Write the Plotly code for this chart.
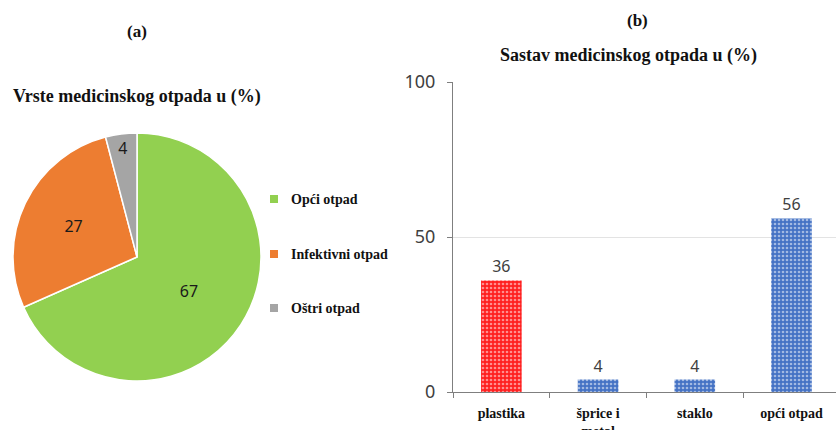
import plotly.graph_objects as go

# ---- data ----
pie_labels = ["Opći otpad", "Infektivni otpad", "Oštri otpad"]
pie_values = [67, 27, 4]
pie_colors = ["#92D050", "#ED7D31", "#A5A5A5"]

bar_categories = ["plastika", "šprice i<br>metal", "staklo", "opći otpad"]
bar_values = [36, 4, 4, 56]
bar_colors = ["#FF1F1F", "#4472C4", "#4472C4", "#4472C4"]

y_ticks = [0, 50, 100]

W, H = 836, 430
ML, MR, MT, MB = 0, 0, 82, 38
PW, PH = W - ML - MR, H - MT - MB


def xp(px):
    return (px - ML) / PW


def yp(py):
    return (H - MB - py) / PH


serif = "Liberation Serif, Times New Roman, serif"
sans = "Noto Sans"

fig = go.Figure()

fig.add_trace(go.Pie(
    labels=pie_labels,
    values=pie_values,
    marker=dict(colors=pie_colors, line=dict(color="white", width=1.5)),
    sort=False,
    direction="clockwise",
    textinfo="value",
    textposition="inside",
    insidetextorientation="horizontal",
    textfont=dict(family=sans, size=16, color="#1a1a1a"),
    domain=dict(x=[xp(13), xp(261)], y=[yp(381), yp(133)]),
    showlegend=False,
    hoverinfo="label+value",
))

fig.add_trace(go.Bar(
    x=[f"<b>{c}</b>" for c in bar_categories],
    y=bar_values,
    text=[str(v) for v in bar_values],
    textposition="outside",
    textfont=dict(family=sans, size=16, color="#404040"),
    cliponaxis=False,
    width=0.42,
    marker=dict(
        color=bar_colors,
        line=dict(width=0),
        pattern=dict(shape=".", fgcolor="white", bgcolor=bar_colors,
                     size=4, solidity=0.35, fillmode="overlay"),
    ),
    showlegend=False,
    xaxis="x", yaxis="y",
))

fig.update_layout(
    width=W, height=H,
    margin=dict(l=ML, r=MR, t=MT, b=MB, autoexpand=False),
    paper_bgcolor="white",
    plot_bgcolor="white",
    xaxis=dict(
        domain=[xp(453), 1.0],
        range=[-0.5, 3.46],
        automargin=False,
        showline=True, linecolor="#7f7f7f", linewidth=1.2,
        ticks="outside", tickson="boundaries", ticklen=5, tickcolor="#7f7f7f",
        tickfont=dict(family=serif, size=14, color="#111111"),
        ticklabelstandoff=8,
        showgrid=False, zeroline=False,
        fixedrange=True,
    ),
    yaxis=dict(
        range=[0, 100],
        tickvals=y_ticks,
        automargin=False,
        showline=True, linecolor="#7f7f7f", linewidth=1.2,
        ticks="outside", ticklen=5, tickcolor="#7f7f7f",
        tickfont=dict(family=sans, size=18, color="#404040"),
        showgrid=True, gridcolor="#e3e3e3", gridwidth=1,
        zeroline=False,
        ticklabelstandoff=8,
        anchor="x",
    ),
)

annotations = [
    dict(text="<b>(a)</b>", x=xp(137), y=yp(32), xanchor="center", yanchor="middle",
         font=dict(family=serif, size=17, color="#111111")),
    dict(text="<b>Vrste medicinskog otpada u (%)</b>", x=xp(11), y=yp(97),
         xanchor="left", yanchor="middle",
         font=dict(family=serif, size=18, color="#111111")),
    dict(text="<b>(b)</b>", x=xp(637), y=yp(20), xanchor="center", yanchor="middle",
         font=dict(family=serif, size=17, color="#111111")),
    dict(text="<b>Sastav medicinskog otpada u (%)</b>", x=xp(628), y=yp(56),
         xanchor="center", yanchor="middle",
         font=dict(family=serif, size=18, color="#111111")),
]

shapes = []
legend_y = [199, 254, 308]
for lab, col, ly in zip(pie_labels, pie_colors, legend_y):
    shapes.append(dict(type="rect", xref="paper", yref="paper",
                       x0=xp(270), x1=xp(278), y0=yp(ly + 4), y1=yp(ly - 4),
                       fillcolor=col, line=dict(width=0)))
    annotations.append(dict(text=f"<b>{lab}</b>", x=xp(289), y=yp(ly),
                            xanchor="left", yanchor="middle",
                            font=dict(family=serif, size=14, color="#111111")))

for a in annotations:
    a.update(xref="paper", yref="paper", showarrow=False)

fig.update_layout(annotations=annotations, shapes=shapes)

fig.write_html("out.html",
               config={"displayModeBar": False},
               post_script="document.body.style.margin='0';document.body.style.overflow='hidden';")
